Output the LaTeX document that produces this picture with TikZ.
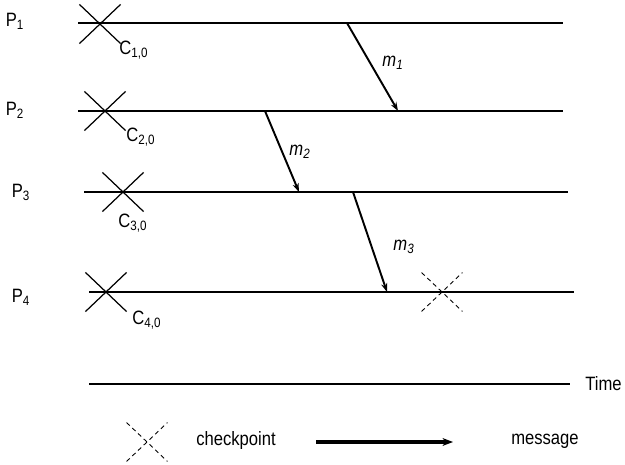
\documentclass[tikz,border=0pt]{standalone}
\usepackage{fontspec}
\setmainfont{Liberation Sans}[FakeStretch=0.86]
\usetikzlibrary{positioning,arrows.meta,shapes.misc}

\begin{document}
\begin{tikzpicture}[x=0.02cm,y=-0.02cm,
  % Node Styles
  plabel/.style={inner sep=0pt, anchor=center, font=\fontsize{11}{13}\selectfont},
  clabel/.style={inner sep=0pt, anchor=center, font=\fontsize{11}{13}\selectfont},
  mlabel/.style={inner sep=0pt, anchor=center, font=\fontsize{11}{13}\selectfont\itshape},
  ckpt/.style={cross out, draw, line width=0.7pt, minimum width=0.8cm, minimum height=0.76cm, inner sep=0pt},
  tentative/.style={ckpt, dashed, line width=0.5pt, dash pattern=on 2.5pt off 2pt},
  % Arrow Styles
  procline/.style={line width=0.7pt},
  msgarrow/.style={-{Stealth[length=5pt,width=3.5pt,open]}, line width=1.1pt},
  legarrow/.style={-{Stealth[length=6pt,width=4.5pt]}, line width=1.8pt},
]
\useasboundingbox (0,0) rectangle (625,465);

% Process lines
\coordinate (P1s) at (78,23);  \coordinate (P1e) at (563,23);
\coordinate (P2s) at (78,111); \coordinate (P2e) at (563,111);
\coordinate (P3s) at (84,192); \coordinate (P3e) at (568,192);
\coordinate (P4s) at (89,292); \coordinate (P4e) at (574,292);

\node[plabel] (P1) at (15,21) {P\textsubscript{1}};
\node[plabel] (P2) at (15,110) {P\textsubscript{2}};
\node[plabel] (P3) at (21,192) {P\textsubscript{3}};
\node[plabel] (P4) at (21,297) {P\textsubscript{4}};

\draw[procline] (P1s) -- (P1e);
\draw[procline] (P2s) -- (P2e);
\draw[procline] (P3s) -- (P3e);
\draw[procline] (P4s) -- (P4e);

% Checkpoints
\node[ckpt] (C10) at (100,24) {};
\node[ckpt] (C20) at (105,111) {};
\node[ckpt] (C30) at (123,192) {};
\node[ckpt] (C40) at (106,292) {};
\node[tentative] (C41) at (442,292) {};

\node[clabel] (C10l) at (134,50) {C\textsubscript{1,0}};
\node[clabel] (C20l) at (141,137) {C\textsubscript{2,0}};
\node[clabel] (C30l) at (133,223) {C\textsubscript{3,0}};
\node[clabel] (C40l) at (147,320) {C\textsubscript{4,0}};

% Messages
\coordinate (m1s) at (347,23);  \coordinate (m1e) at (398,111);
\coordinate (m2s) at (265,111); \coordinate (m2e) at (299,192);
\coordinate (m3s) at (353,192); \coordinate (m3e) at (387,292);

\draw[msgarrow] (m1s) -- (m1e);
\draw[msgarrow] (m2s) -- (m2e);
\draw[msgarrow] (m3s) -- (m3e);

\node[mlabel] (m1) at (393,63) {m\textsubscript{1}};
\node[mlabel] (m2) at (300,152) {m\textsubscript{2}};
\node[mlabel] (m3) at (404,247) {m\textsubscript{3}};

% Time axis
\coordinate (Ts) at (89,384);
\node[plabel, anchor=west] (Time) at (585,384) {Time};
\draw[procline] (Ts) -- (Time.west -| 570,0);

% Legend
\node[tentative] (Lckpt) at (147,442) {};
\node[plabel] (Lckptl) at (236,441) {checkpoint};
\coordinate (Lms) at (316,442); \coordinate (Lme) at (453,442);
\draw[legarrow] (Lms) -- (Lme);
\node[plabel] (Lmsgl) at (545,441) {message};

\end{tikzpicture}
\end{document}
